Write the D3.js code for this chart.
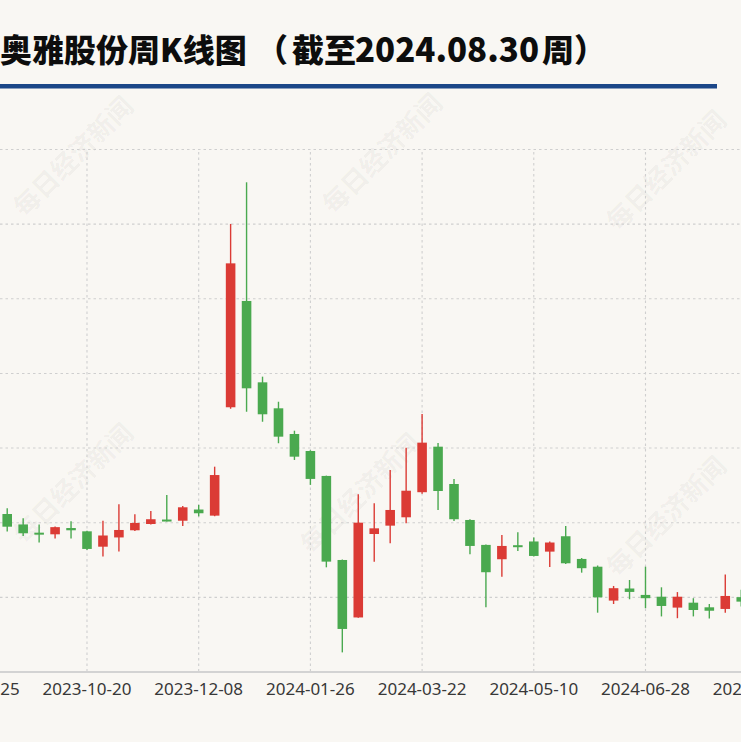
<!DOCTYPE html>
<html><head><meta charset="utf-8">
<script src="https://cdn.jsdelivr.net/npm/d3@7/dist/d3.min.js"></script>
<style>html,body{margin:0;padding:0;background:#f9f7f3;overflow:hidden}</style>
</head><body>
<svg id="c" width="741" height="742"></svg>
<script>
// ---------- data ----------
const dates = ["2023-08-25","2023-09-01","2023-09-08","2023-09-15","2023-09-22","2023-09-28","2023-10-13","2023-10-20",
"2023-10-27","2023-11-03","2023-11-10","2023-11-17","2023-11-24","2023-12-01","2023-12-08","2023-12-15","2023-12-22",
"2023-12-29","2024-01-05","2024-01-12","2024-01-19","2024-01-26","2024-02-02","2024-02-08","2024-02-23","2024-03-01",
"2024-03-08","2024-03-15","2024-03-22","2024-03-29","2024-04-03","2024-04-12","2024-04-19","2024-04-26","2024-04-30",
"2024-05-10","2024-05-17","2024-05-24","2024-05-31","2024-06-07","2024-06-14","2024-06-21","2024-06-28","2024-07-05",
"2024-07-12","2024-07-19","2024-07-26","2024-08-02","2024-08-09","2024-08-16","2024-08-23","2024-08-30"];
const openV  = [25.00,25.20,25.55,24.85,24.30,24.19,24.61,24.39,23.36,23.98,24.46,24.88,25.18,25.10,25.85,25.44,32.70,
39.82,34.37,32.63,30.91,29.77,28.10,22.47,18.62,24.21,24.77,25.33,27.01,30.06,27.56,25.15,23.48,22.52,23.46,
23.71,23.03,24.06,22.54,22.02,19.75,20.56,20.13,20.01,19.28,19.61,19.30,19.19,19.98,19.70,19.35,18.95];
const highV  = [25.80,26.00,25.93,25.26,24.84,24.72,25.06,24.42,25.10,26.20,25.53,25.75,26.83,26.09,26.16,28.72,44.98,
47.77,34.75,33.07,31.13,29.82,28.12,22.50,26.87,26.27,28.50,29.99,32.25,30.30,27.90,25.20,23.50,24.15,24.33,
23.97,23.70,24.74,22.60,22.10,20.73,21.13,22.02,20.64,20.32,19.91,19.52,21.50,20.47,20.10,19.70,19.30];
const lowV   = [24.50,24.90,24.37,24.08,23.64,23.91,23.91,23.14,22.71,23.03,24.41,24.85,25.05,24.75,25.39,25.40,32.60,
32.40,31.73,30.29,29.17,27.50,21.98,16.28,18.60,22.36,23.59,24.93,26.90,25.82,25.08,22.85,19.30,21.35,23.07,
22.70,22.00,22.20,21.62,18.94,19.52,19.84,19.24,18.69,18.57,18.69,18.55,18.94,19.36,19.00,18.70,18.40];
const closeV = [25.20,25.60,24.70,24.26,24.20,24.67,24.46,23.21,24.11,24.48,24.95,25.20,25.08,26.00,25.60,28.16,42.34,
33.97,32.23,30.73,29.39,27.90,22.36,17.85,24.97,24.59,25.82,27.11,30.33,27.09,25.20,23.41,21.65,23.41,23.34,
22.74,23.64,22.25,21.92,19.97,20.58,20.33,19.91,19.39,20.01,19.12,19.07,20.06,19.68,19.35,18.95,18.60];
const yTicks = [15,20,25,30,35,40,45,50];
const xLabelEvery = 7;
const titleParts = ["奥雅股份周K线图", "（", "截至", "2024.08.30", "周）"];
const watermarkText = "每日经济新闻";

// ---------- layout ----------
const W = 741, H = 742;
const plotTop = 149, plotBottom = 671.5;
const band = 15.957, xStart = -32.68;
const upColor = "#db3b35", downColor = "#4aa94f";

const svg = d3.select("#c");
svg.append("rect").attr("width", W).attr("height", H).attr("fill", "#f9f7f3");

const x = d3.scaleBand().domain(dates).range([xStart, xStart + band * dates.length]).padding(0);
const y = d3.scaleLinear().domain([yTicks[0], yTicks[yTicks.length - 1]]).range([plotBottom, plotTop]);

// title
const title = svg.append("text").attr("y", 62)
  .attr("font-family", "'Noto Sans CJK SC', sans-serif").attr("font-weight", 900)
  .attr("font-size", 32).attr("fill", "#0d0d0d");
const titleX = [0, 256, 292, 355, 542];
titleParts.forEach((t, i) => {
  const ts = title.append("tspan").attr("x", titleX[i]).text(t);
  if (i === 3) ts.attr("font-size", 34).attr("textLength", 184).attr("lengthAdjust", "spacingAndGlyphs");
});
svg.append("rect").attr("x", 0).attr("y", 84).attr("width", 717).attr("height", 4.5).attr("fill", "#1c4788");

// watermark
const wmPos = [[75,158],[384,155],[668,172],[75,485],[362,495],[668,518]];
svg.append("g").selectAll("text").data(wmPos).join("text")
  .attr("transform", d => `translate(${d[0]},${d[1]}) rotate(-45)`)
  .attr("text-anchor", "middle").attr("dominant-baseline", "middle")
  .attr("font-family", "'Noto Sans CJK SC', sans-serif").attr("font-weight", 700)
  .attr("font-size", 26).attr("fill", "#000").attr("fill-opacity", 0.05)
  .text(watermarkText);

// horizontal grid (y axis labels lie outside the cropped view)
const yAxis = d3.axisLeft(y).tickValues(yTicks.slice(1)).tickSize(-W).tickFormat(() => "");
const gy = svg.append("g").call(yAxis);
gy.select(".domain").remove();
gy.selectAll(".tick line").attr("stroke", "#cfcfcf").attr("stroke-width", 1.1).attr("stroke-dasharray", "2.5,3");

// x axis with vertical grid
const xAxis = d3.axisBottom(x).tickValues(dates.filter((d, i) => i % xLabelEvery === 0))
  .tickSize(-(plotBottom - plotTop)).tickPadding(11.5);
const gx = svg.append("g").attr("transform", `translate(0,${plotBottom})`).call(xAxis);
gx.select(".domain").remove();
gx.selectAll(".tick line").attr("stroke", "#cfcfcf").attr("stroke-width", 1.1).attr("stroke-dasharray", "2.5,3");
gx.selectAll(".tick text").attr("font-family", "'Noto Sans', sans-serif").attr("font-size", 17).attr("fill", "#383838");
svg.append("line").attr("x1", 0).attr("x2", W).attr("y1", plotBottom + 0.5).attr("y2", plotBottom + 0.5)
  .attr("stroke", "#d3d3d3").attr("stroke-width", 2);

// candles
const bodyW = band * 0.6;
const candles = svg.append("g").selectAll("g").data(dates).join("g")
  .attr("transform", d => `translate(${x(d) + x.bandwidth() / 2},0)`);
candles.append("line")
  .attr("y1", (d, i) => y(highV[i])).attr("y2", (d, i) => y(lowV[i]))
  .attr("stroke", (d, i) => closeV[i] >= openV[i] ? upColor : downColor).attr("stroke-width", 1.4);
candles.append("rect")
  .attr("x", -bodyW / 2).attr("width", bodyW)
  .attr("y", (d, i) => y(Math.max(openV[i], closeV[i])))
  .attr("height", (d, i) => Math.max(2, Math.abs(y(openV[i]) - y(closeV[i]))))
  .attr("fill", (d, i) => closeV[i] >= openV[i] ? upColor : downColor);
</script>
</body></html>
